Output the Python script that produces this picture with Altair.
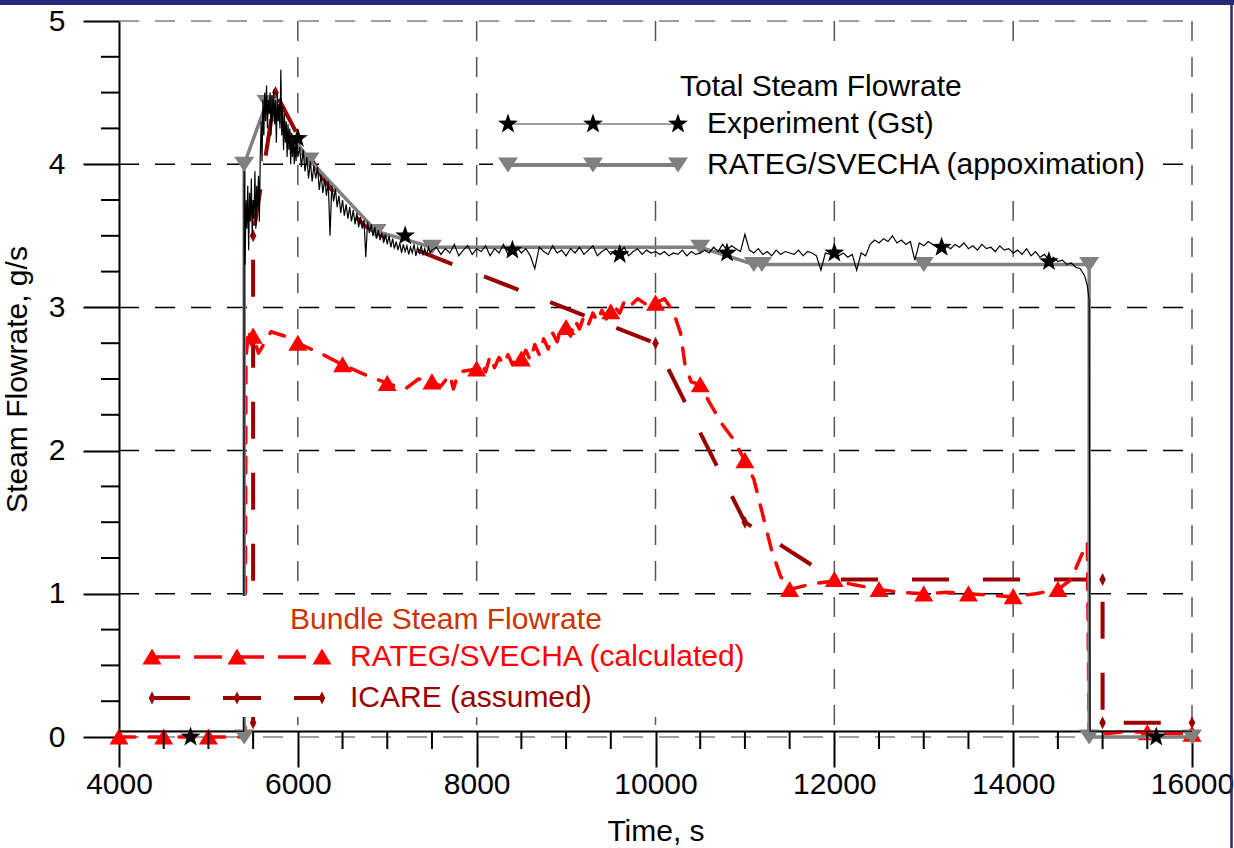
import altair as alt
import pandas as pd

FONT = "Liberation Sans"

# ---------------- data ----------------
# Experiment (Gst) total steam flowrate, g/s
exp_head_t = [4000, 5395]
exp_head_v = [0.04, 0.04]
exp_s1_start, exp_s1_step = 5400, 10
exp_s1_v = [3.95, 3.3, 3.75, 3.55, 3.85, 3.4, 3.8, 3.6, 3.9, 3.5,
            3.75, 3.62, 3.95, 3.55, 3.85, 3.7, 3.92, 3.6, 4.05, 4.3, 4.02]
exp_s2_start, exp_s2_step = 5610, 10
exp_s2_v = [4.45, 4.2, 4.5, 4.3, 4.55, 4.25, 4.45, 4.35, 4.5, 4.2,
            4.48, 4.3, 4.52, 4.28, 4.45, 4.15, 4.5, 4.3, 4.42, 4.25,
            4.66, 4.2, 4.4, 4.1, 4.35, 4.15, 4.3, 4.05, 4.28, 4.1,
            4.25, 4.0, 4.22, 4.05, 4.2, 4.0, 4.15, 4.02, 4.18, 4.05]
exp_s3_start, exp_s3_step = 6020, 20
exp_s3_v = [4.12, 3.98, 4.1, 3.95, 4.05, 3.9, 4.02, 3.88, 3.99, 3.9,
            3.98, 3.82, 3.93, 3.8, 3.9, 3.78, 3.88, 3.5, 3.85, 3.74,
            3.83, 3.7, 3.78, 3.66, 3.75, 3.64, 3.72, 3.62, 3.7, 3.6,
            3.68, 3.58, 3.66, 3.56, 3.63, 3.55, 3.61, 3.35, 3.6, 3.52,
            3.58, 3.5, 3.56, 3.48, 3.54, 3.47, 3.52, 3.45, 3.51, 3.44,
            3.5, 3.42, 3.48, 3.41, 3.46, 3.4, 3.45, 3.38, 3.44, 3.39,
            3.43, 3.37, 3.42, 3.38, 3.44, 3.36, 3.42, 3.38, 3.43, 3.37,
            3.41, 3.36, 3.42, 3.38, 3.4]
exp_s4_start, exp_s4_step = 7550, 50
exp_s4_v = [3.42, 3.37, 3.41, 3.38, 3.44, 3.36, 3.4, 3.43, 3.37, 3.41,
            3.39, 3.43, 3.36, 3.41, 3.38, 3.44, 3.37, 3.4, 3.42, 3.38,
            3.41, 3.36, 3.27, 3.42, 3.39, 3.37, 3.43, 3.38, 3.4, 3.36,
            3.41, 3.38, 3.42, 3.37, 3.4, 3.43, 3.36, 3.39, 3.41, 3.37,
            3.4, 3.38, 3.42, 3.36, 3.39, 3.41, 3.37, 3.4, 3.38, 3.39,
            3.37, 3.39, 3.36, 3.38, 3.37, 3.4, 3.36, 3.39, 3.37, 3.38,
            3.4, 3.38, 3.42, 3.39, 3.44, 3.4, 3.43, 3.41, 3.39, 3.51,
            3.4, 3.38, 3.41, 3.37, 3.39, 3.36, 3.4, 3.37, 3.39, 3.38,
            3.37, 3.4, 3.36, 3.39, 3.38, 3.36, 3.26, 3.38, 3.37, 3.39,
            3.36, 3.38, 3.35, 3.37, 3.26, 3.38, 3.36, 3.44, 3.47, 3.45,
            3.48, 3.46, 3.5, 3.45, 3.47, 3.44, 3.46, 3.33, 3.45, 3.43,
            3.46, 3.44, 3.42, 3.45, 3.43, 3.41, 3.44, 3.42, 3.45, 3.41,
            3.43, 3.4, 3.44, 3.41, 3.42, 3.39, 3.43, 3.4, 3.41, 3.38,
            3.4, 3.37, 3.41, 3.36, 3.39, 3.35, 3.37, 3.33, 3.35, 3.32,
            3.33, 3.3, 3.31, 3.28, 3.27, 3.22]
exp_tail_t = [14830, 14850, 14860, 16000]
exp_tail_v = [3.15, 3.05, 0.04, 0.04]

# Experiment star markers
star_t = [4800, 6000, 7200, 8400, 9600, 10800, 12000, 13200, 14400, 15600]
star_v = [0.0, 4.18, 3.5, 3.4, 3.37, 3.38, 3.38, 3.42, 3.32, 0.0]

# RATEG/SVECHA approximation (total)
appr_t = [5400, 5400, 5650, 6130, 6880, 7500, 10500, 11100, 11190, 13000, 14850, 14850, 16000]
appr_v = [0.0, 4.0, 4.43, 4.03, 3.53, 3.42, 3.42, 3.3, 3.3, 3.3, 3.3, 0.0, 0.0]

# RATEG/SVECHA calculated (bundle)
calc_t = [4000, 4500, 5000, 5410, 5420, 5450, 5480, 5500, 5560, 5700, 5850, 6000,
          6250, 6500, 6750, 7000, 7200, 7350, 7500, 7600, 7700, 7740, 7800, 7900,
          8000, 8050, 8100, 8150, 8200, 8250, 8300, 8350, 8400, 8450, 8500, 8550,
          8600, 8650, 8700, 8750, 8800, 8850, 8900, 8950, 9000, 9050, 9100, 9150,
          9200, 9250, 9300, 9350, 9400, 9450, 9500, 9550, 9600, 9650, 9700, 9800,
          9900, 10000, 10100, 10200, 10280, 10330, 10400, 10500, 10600, 10750, 10870, 11000,
          11100, 11200, 11300, 11400, 11500, 11750, 12000, 12250, 12500, 12750, 13000, 13250,
          13500, 13750, 14000, 14250, 14500, 14650, 14750, 14830, 14850, 15000, 15300, 15500,
          16000]
calc_v = [0.0, 0.0, 0.0, 0.0, 2.65, 2.85, 2.74, 2.8, 2.68, 2.83, 2.8, 2.75,
          2.68, 2.6, 2.53, 2.47, 2.43, 2.5, 2.48, 2.45, 2.53, 2.43, 2.55, 2.56,
          2.57, 2.62, 2.55, 2.66, 2.58, 2.65, 2.6, 2.67, 2.6, 2.66, 2.64, 2.7,
          2.63, 2.74, 2.67, 2.78, 2.71, 2.82, 2.76, 2.87, 2.85, 2.8, 2.91, 2.85,
          2.94, 2.88, 2.96, 2.9, 2.98, 2.92, 2.97, 3.0, 2.96, 3.04, 3.0, 3.06,
          3.02, 3.03, 3.06, 2.97, 2.82, 2.6, 2.48, 2.46, 2.34, 2.18, 2.08, 1.93,
          1.8, 1.55, 1.3, 1.12, 1.03, 1.07, 1.09, 1.06, 1.03, 1.01, 1.0, 1.01,
          1.0, 0.99, 0.98, 1.0, 1.03, 1.1, 1.25, 1.36, 0.0, 0.02, 0.04, 0.03,
          0.02]
calc_mk_t = [4000, 4500, 5000, 5500, 6000, 6500, 7000, 7500, 8000, 8500, 9000, 9500,
             10000, 10500, 11000, 11500, 12000, 12500, 13000, 13500, 14000, 14500, 15500, 16000]
calc_mk_v = [0.0, 0.0, 0.0, 2.8, 2.75, 2.6, 2.47, 2.48, 2.57, 2.64, 2.86, 2.97,
             3.03, 2.46, 1.93, 1.03, 1.1, 1.03, 1.0, 1.0, 0.98, 1.03, 0.03, 0.02]

# ICARE assumed (bundle)
icare_t = [5500, 5500, 5750, 6000, 6250, 6500, 6750, 7000, 10000, 11000, 12000, 15000, 15000, 16000]
icare_v = [0.1, 3.5, 4.5, 4.2, 3.93, 3.72, 3.57, 3.48, 2.75, 1.5, 1.1, 1.1, 0.1, 0.1]
icare_mk_t = [5500, 5500, 5750, 10000, 11000, 12000, 15000, 15000, 16000]
icare_mk_v = [0.1, 3.5, 4.5, 2.75, 1.5, 1.1, 1.1, 0.1, 0.1]

# axes
x_major = [4000, 6000, 8000, 10000, 12000, 14000, 16000]
x_minor = [t for t in range(4000, 16001, 500) if t % 2000 != 0]
y_major = [0, 1, 2, 3, 4, 5]
y_minor = [k / 4 for k in range(0, 21) if k % 4 != 0]
grid_black = [1, 2, 3, 4]
grid_grey = [0, 5]
grid_x = [6000, 8000, 10000, 12000, 14000, 16000]

# ---------------- layout ----------------
W, H = 1234, 848
PAD_L, PAD_T = 119, 21
PW, PH = 1073, 716
PAD_R = W - PAD_L - PW
PAD_B = H - PAD_T - PH
AXIS_UP = 6  # x axis line sits a few px above zero

RED = "#FF0000"
DARKRED = "#990000"
GREY = "#808080"
NAVY = "#29297A"
FS = 30

STAR = ("M0,-1L0.235,-0.324L0.951,-0.309L0.38,0.124L0.588,0.809L0,0.4L-0.588,0.809"
        "L-0.38,0.124L-0.951,-0.309L-0.235,-0.324Z")
TRI_DOWN = "M-1,-0.75L1,-0.75L0,0.75Z"
TRI_UP = "M-1,0.8L1,0.8L0,-0.9Z"
DIAMOND = "M0,-1L0.5,0L0,1L-0.5,0Z"

xs = alt.Scale(domain=[4000, 16000], nice=False, zero=False)
ys = alt.Scale(domain=[0, 5], nice=False, zero=False)

AX_X = alt.Axis(
    values=x_major, format="d", tickSize=36, tickWidth=2, tickColor="black",
    domainColor="black", domainWidth=2, offset=-AXIS_UP, grid=False,
    labelFontSize=FS, labelFont=FONT, labelColor="black", labelPadding=2,
    labelFlush=False, labelOverlap=False,
    title="Time, s", titleFont=FONT, titleFontSize=FS, titleFontWeight="normal",
    titleColor="black", titlePadding=17)
AX_Y = alt.Axis(
    values=y_major, tickSize=36, tickWidth=2, tickColor="black",
    domainColor="black", domainWidth=2, grid=False,
    labelFontSize=FS, labelFont=FONT, labelColor="black", labelPadding=18,
    labelFlush=False, labelOverlap=False,
    title="Steam Flowrate, g/s", titleFont=FONT, titleFontSize=FS,
    titleFontWeight="normal", titleColor="black", titlePadding=16)


def series_df(t, v):
    return pd.DataFrame({"t": t, "v": v, "i": list(range(len(t)))})


def seg(start, step, vals):
    return [start + k * step for k in range(len(vals))]


exp_t = (exp_head_t + seg(exp_s1_start, exp_s1_step, exp_s1_v) + seg(exp_s2_start, exp_s2_step, exp_s2_v)
         + seg(exp_s3_start, exp_s3_step, exp_s3_v) + seg(exp_s4_start, exp_s4_step, exp_s4_v) + exp_tail_t)
exp_v = exp_head_v + exp_s1_v + exp_s2_v + exp_s3_v + exp_s4_v + exp_tail_v


def X(f="t"):
    return alt.X(f + ":Q", scale=xs, axis=AX_X)


def Y(f="v"):
    return alt.Y(f + ":Q", scale=ys, axis=AX_Y)


one = alt.Data(values=[{"a": 1}])


def box(x1, y1, x2, y2):
    return alt.Chart(one).mark_rect(color="white", opacity=1).encode(
        x=alt.value(x1 - PAD_L), x2=alt.value(x2 - PAD_L),
        y=alt.value(y1 - PAD_T), y2=alt.value(y2 - PAD_T))


def hline(x1, x2, y, color, width, dash=None, cap="butt"):
    kw = dict(color=color, strokeWidth=width, strokeCap=cap)
    if dash:
        kw["strokeDash"] = dash
    return alt.Chart(one).mark_rule(**kw).encode(
        x=alt.value(x1 - PAD_L), x2=alt.value(x2 - PAD_L), y=alt.value(y - PAD_T))


def vline(x, y1, y2, color, width):
    return alt.Chart(one).mark_rule(color=color, strokeWidth=width).encode(
        x=alt.value(x - PAD_L), y=alt.value(y1 - PAD_T), y2=alt.value(y2 - PAD_T))


def sym(x, y, shape, size, color):
    return alt.Chart(one).mark_point(shape=shape, filled=True, size=size, color=color, opacity=1).encode(
        x=alt.value(x - PAD_L), y=alt.value(y - PAD_T))


def label(x, y, text, color="black", size=FS):
    return alt.Chart(one).mark_text(text=text, align="left", baseline="middle", font=FONT,
                                    fontSize=size, color=color).encode(
        x=alt.value(x - PAD_L), y=alt.value(y - PAD_T))


layers = []

exp_layer = alt.Chart(series_df(exp_t, exp_v)).mark_line(
    color="black", strokeWidth=1.2).encode(x=X(), y=Y(), order="i:Q")

# gridlines
layers.append(alt.Chart(pd.DataFrame({"t": grid_x})).mark_rule(
    color="#555555", strokeWidth=1.5, strokeDash=[20, 16]).encode(
    x=X(), y=alt.value(0), y2=alt.value(PH)))
layers.append(alt.Chart(pd.DataFrame({"v": grid_black})).mark_rule(
    color="black", strokeWidth=1.5, strokeDash=[20, 16]).encode(
    y=Y(), x=alt.value(0), x2=alt.value(PW)))
layers.append(alt.Chart(pd.DataFrame({"v": grid_grey})).mark_rule(
    color=GREY, strokeWidth=1.5, strokeDash=[20, 16]).encode(
    y=Y(), x=alt.value(0), x2=alt.value(PW)))

# ICARE line
layers.append(alt.Chart(series_df(icare_t, icare_v)).mark_line(
    color=DARKRED, strokeWidth=4, strokeDash=[37, 34]).encode(x=X(), y=Y(), order="i:Q"))
# calculated line
layers.append(alt.Chart(series_df(calc_t, calc_v)).mark_line(
    color=RED, strokeWidth=3.5, strokeDash=[16, 14], strokeCap="round", strokeJoin="round").encode(
    x=X(), y=Y(), order="i:Q"))
# markers for bundle series
layers.append(alt.Chart(series_df(icare_mk_t, icare_mk_v)).mark_point(
    shape=DIAMOND, filled=True, size=169, color=DARKRED, opacity=1).encode(x=X(), y=Y()))
layers.append(alt.Chart(series_df(calc_mk_t, calc_mk_v)).mark_point(
    shape=TRI_UP, filled=True, size=361, color=RED, opacity=1).encode(x=X(), y=Y()))
# approximation
layers.append(alt.Chart(series_df(appr_t, appr_v)).mark_line(
    color=GREY, strokeWidth=3.5).encode(x=X(), y=Y(), order="i:Q"))
layers.append(alt.Chart(series_df(appr_t, appr_v)).mark_point(
    shape=TRI_DOWN, filled=True, size=400, color=GREY, opacity=1).encode(x=X(), y=Y()))

# experiment
layers.append(exp_layer)
layers.append(alt.Chart(series_df(star_t, star_v)).mark_point(
    shape=STAR, filled=True, size=440, color="black", opacity=1).encode(x=X(), y=Y()))

# minor ticks
layers.append(alt.Chart(pd.DataFrame({"t": x_minor})).mark_rule(color="black", strokeWidth=2).encode(
    x=X(), y=alt.value(PH - AXIS_UP), y2=alt.value(PH - AXIS_UP + 18)))
layers.append(alt.Chart(pd.DataFrame({"v": y_minor})).mark_rule(color="black", strokeWidth=2).encode(
    y=Y(), x=alt.value(-18), x2=alt.value(0)))

# ---------------- legends & frame (absolute page coordinates) ----------------
layers.append(box(493, 50, 1160, 190))
layers.append(box(121, 596, 765, 717))

LX = [508, 593, 678]
layers.append(label(680, 87, "Total Steam Flowrate"))
layers.append(hline(508, 678, 124, GREY, 1.5))
layers += [sym(x, 124, STAR, 440, "black") for x in LX]
layers.append(label(707, 124, "Experiment (Gst)"))
layers.append(hline(508, 678, 165, GREY, 4))
layers += [sym(x, 165, TRI_DOWN, 400, GREY) for x in LX]
layers.append(label(707, 165, "RATEG/SVECHA (appoximation)"))

BX = [152, 237, 322]
layers.append(label(290, 620, "Bundle Steam Flowrate", color="#CC3300"))
layers.append(hline(152, 322, 657, RED, 3.5, dash=[28, 14]))
layers += [sym(x, 657, TRI_UP, 361, RED) for x in BX]
layers.append(label(350, 657, "RATEG/SVECHA (calculated)", color=RED))
layers.append(hline(152, 322, 698, DARKRED, 4, dash=[38, 33]))
layers += [sym(x, 698, DIAMOND, 169, DARKRED) for x in BX]
layers.append(label(350, 698, "ICARE (assumed)", color=DARKRED))

# navy frame pieces
layers.append(hline(0, W, 2.5, NAVY, 5))
layers.append(vline(W - 2.5, 0, H, NAVY, 2.5))

chart = alt.layer(*layers).properties(
    width=PW, height=PH,
    padding={"left": PAD_L, "top": PAD_T, "right": PAD_R, "bottom": PAD_B},
    autosize=alt.AutoSizeParams(type="none"),
    background="white",
).configure(font=FONT).configure_view(stroke=None)

chart.save("out.html", embed_options={"renderer": "svg", "actions": False})
